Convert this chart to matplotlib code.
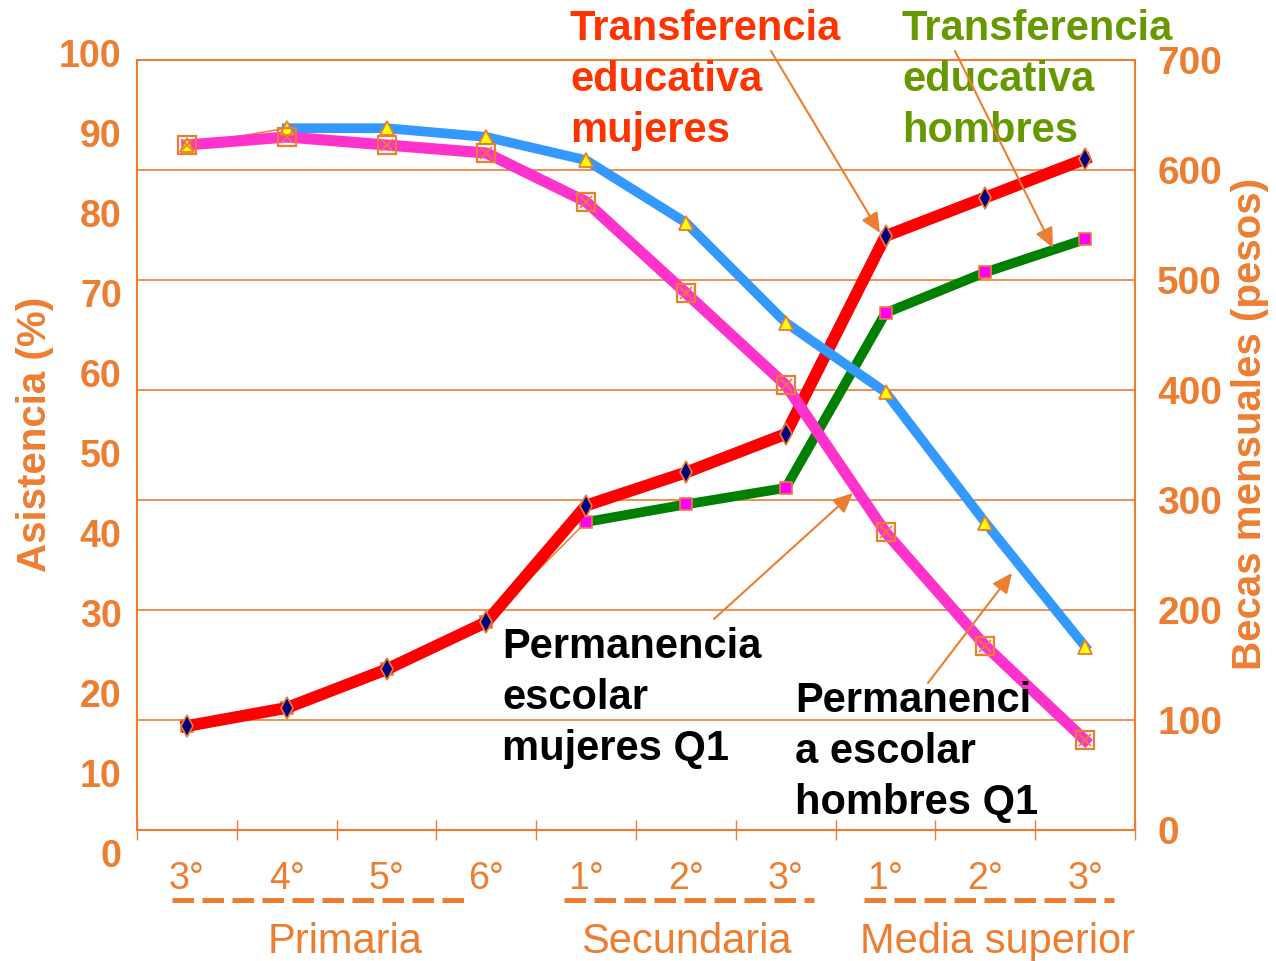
import matplotlib
matplotlib.use("Agg")
import matplotlib.pyplot as plt
import matplotlib.transforms as mtransforms
from matplotlib.patches import FancyArrowPatch
import numpy as np

plt.rcParams['font.family'] = ['Liberation Sans', 'DejaVu Sans']

# ---------------- data ----------------
grades = ['3°', '4°', '5°', '6°', '1°', '2°', '3°', '1°', '2°', '3°']
groups = ['Primaria', 'Secundaria', 'Media superior']

# Asistencia (%) - permanencia escolar Q1
perm_hombres = [88.5, 90.6, 90.6, 89.5, 86.6, 78.8, 66.3, 57.6, 41.3, 25.8]
perm_mujeres = [88.5, 89.5, 88.5, 87.5, 81.4, 70.0, 58.5, 40.1, 25.9, 14.1]

# Becas mensuales (pesos)
transf_mujeres = [94.5, 111, 146, 189, 295, 325, 360, 540, 575, 610]
transf_hombres = [94.5, 111, 146, 189, 280, 296, 311, 470, 507, 537]

pct_ticks = [0, 10, 20, 30, 40, 50, 60, 70, 80, 90, 100]
peso_ticks = [0, 100, 200, 300, 400, 500, 600, 700]

# ---------------- style ----------------
ORANGE = '#ED7D31'
RED_TXT = '#FF3300'
GREEN_TXT = '#669900'
W, H = 1276, 961

def fx(x):
    return x / W

def fy(y):
    return 1 - y / H

fig = plt.figure(figsize=(W / 100, H / 100), dpi=100)

# main frame (right axis in pesos)
L, R, T, B = 137, 1135, 60, 830
ax = fig.add_axes([fx(L), fy(B), (R - L) / W, (B - T) / H])
ax.set_xlim(-0.5, 9.5)
ax.set_ylim(0, 700)
for s in ax.spines.values():
    s.set_color(ORANGE)
    s.set_linewidth(1.5)
ax.yaxis.tick_right()
ax.set_yticks(peso_ticks)
ax.set_yticklabels([str(t) for t in peso_ticks])
ax.tick_params(axis='y', which='both', length=0, pad=16, labelsize=28,
               labelcolor=ORANGE)
for lab in ax.get_yticklabels():
    lab.set_fontweight('bold')
ax.grid(axis='y', color=ORANGE, linewidth=1.2, zorder=0)
ax.set_axisbelow(True)

x = np.arange(len(grades))
ax.set_xticks(np.arange(-0.5, 10, 1.0))
ax.set_xticklabels([])
ax.tick_params(axis='x', which='major', direction='inout', length=15,
               width=1.0, color=ORANGE)
ax.set_xticks(x, minor=True)
ax.set_xticklabels(grades, minor=True)
ax.tick_params(axis='x', which='minor', length=0, pad=22, labelsize=27,
               labelcolor=ORANGE)

# green (hombres transfer) under red
th = np.array(transf_hombres, dtype=float)
ax.plot(x[:4], th[:4], color='#008000', lw=7, zorder=2, solid_capstyle='butt')
ax.plot(x[3:5], th[3:5], color=ORANGE, lw=1.1, zorder=2)
ax.plot(x[4:], th[4:], color='#008000', lw=7, zorder=2, solid_joinstyle='miter')
ax.plot(x, th, ls='none', marker='s', ms=8, mfc='#FF00FF', mec=ORANGE,
        mew=1.2, zorder=3)
# red (mujeres transfer)
ax.plot(x, transf_mujeres, color='#FF0000', lw=8.5, zorder=4,
        solid_joinstyle='miter')
ax.plot(x, transf_mujeres, ls='none', marker='d', ms=11, mfc='#000080',
        mec=ORANGE, mew=1.2, zorder=5)

# group dashes and labels
trans = mtransforms.blended_transform_factory(ax.transData, ax.transAxes)
group_spans = [(-0.15, 2.81), (3.78, 6.28), (6.78, 9.29)]
group_centers = [1.58, 5.0, 8.12]
dash_y = (B - 900) / (B - T)
lab_y = (B - 953) / (B - T)
for (a, b), c, g in zip(group_spans, group_centers, groups):
    ax.plot([a, b], [dash_y, dash_y], transform=trans, clip_on=False,
            color=ORANGE, lw=3.6, ls=(0, (4.3, 1.7)), solid_capstyle='butt',
            dash_capstyle='butt')
    ax.text(c, lab_y, g, transform=trans, ha='center', va='baseline',
            fontsize=30, color=ORANGE)

# percent axes (left labels)
axp = fig.add_axes([fx(L), fy(853), (R - L) / W, 800 / H])
axp.set_xlim(-0.5, 9.5)
axp.set_ylim(0, 100)
axp.patch.set_alpha(0)
for s in axp.spines.values():
    s.set_visible(False)
axp.set_xticks([])
axp.set_yticks(pct_ticks)
axp.set_yticklabels([str(t) for t in pct_ticks])
axp.tick_params(axis='y', length=0, pad=11, labelsize=27, labelcolor=ORANGE)
for lab in axp.get_yticklabels():
    lab.set_fontweight('bold')

ph = np.array(perm_hombres)
pm = np.array(perm_mujeres)
axp.plot(x[0:2], ph[0:2], color=ORANGE, lw=1.1, zorder=2, clip_on=False)
axp.plot(x[1:], ph[1:], color='#3399FF', lw=7, zorder=2, clip_on=False)
axp.plot(x, pm, color='#FF33CC', lw=8, zorder=3, clip_on=False)
axp.plot(x, ph, ls='none', marker='^', ms=10, mfc='#FFFF00', mec=ORANGE,
         mew=1.3, zorder=4, clip_on=False)
axp.plot(x, pm, ls='none', marker='s', ms=13, mfc='none', mec=ORANGE,
         mew=1.6, zorder=5, clip_on=False)
axp.plot(x, pm, ls='none', marker='x', ms=9, mec=ORANGE, mew=1.2,
         zorder=5, clip_on=False)

# axis titles
fig.text(fx(35), fy(434), 'Asistencia (%)', rotation=90, ha='center',
         va='center', fontsize=29, fontweight='bold', color=ORANGE)
fig.text(fx(1250), fy(424), 'Becas mensuales (pesos)', rotation=90,
         ha='center', va='center', fontsize=29, fontweight='bold',
         color=ORANGE)

# annotation texts
def block(lines, x0, y0, color, step=51):
    for i, t in enumerate(lines):
        fig.text(fx(x0), fy(y0 + i * step), t, ha='left', va='baseline',
                 fontsize=30, fontweight='bold', color=color)

block(['Transferencia', 'educativa', 'mujeres'], 570, 40, RED_TXT)
block(['Transferencia', 'educativa', 'hombres'], 902, 40, GREEN_TXT)
block(['Permanencia', 'escolar', 'mujeres Q1'], 502, 658, 'black')
block(['Permanenci', 'a escolar', 'hombres Q1'], 795, 712, 'black')

# arrows
arrows = [((771, 51), (880, 233)), ((955, 51), (1053, 248)),
          ((714, 619), (853, 493)), ((928, 683), (1012, 573))]
for (x0, y0), (x1, y1) in arrows:
    p = FancyArrowPatch((fx(x0), fy(y0)), (fx(x1), fy(y1)),
                        transform=fig.transFigure,
                        arrowstyle='-|>,head_length=0.55,head_width=0.25',
                        mutation_scale=22, color=ORANGE, lw=1.5,
                        shrinkA=0, shrinkB=0, zorder=10)
    fig.add_artist(p)

fig.savefig('out.png', dpi=100)
